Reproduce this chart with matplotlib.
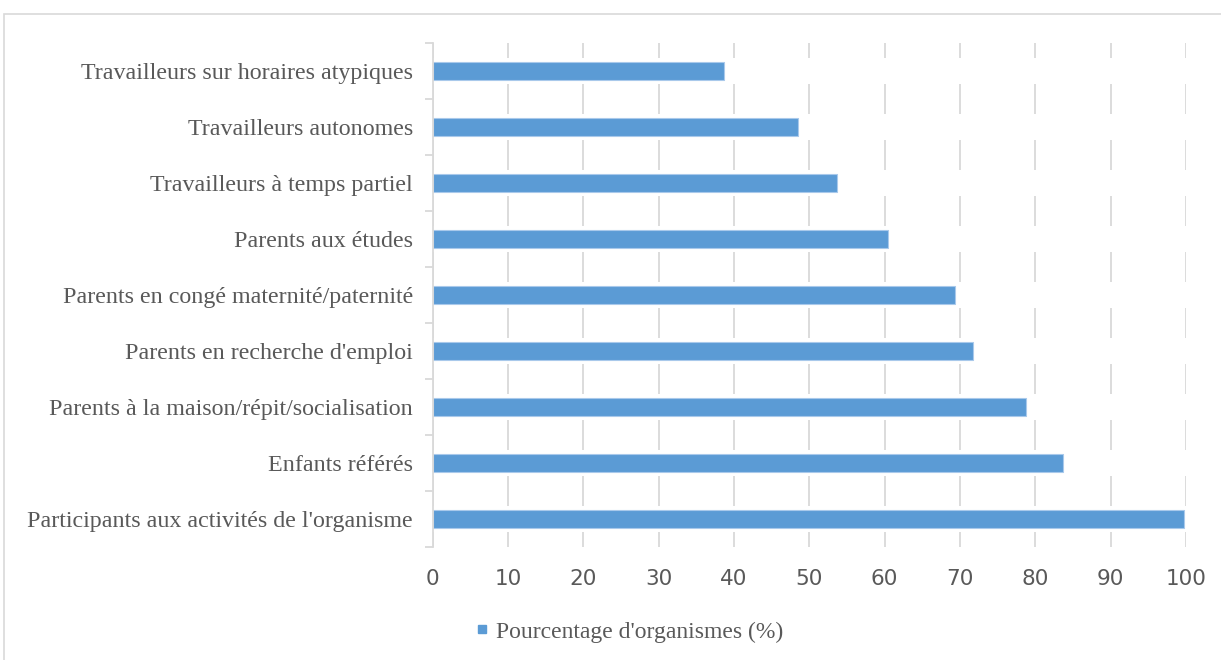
import numpy as np
import matplotlib.pyplot as plt
from matplotlib.patches import Rectangle
from matplotlib.lines import Line2D

categories = ["Travailleurs sur horaires atypiques", "Travailleurs autonomes",
              "Travailleurs à temps partiel", "Parents aux études",
              "Parents en congé maternité/paternité", "Parents en recherche d'emploi",
              "Parents à la maison/répit/socialisation", "Enfants référés",
              "Participants aux activités de l'organisme"]
values = [38.7, 48.5, 53.7, 60.5, 69.3, 71.7, 78.7, 83.7, 99.8]
xticks = [0, 10, 20, 30, 40, 50, 60, 70, 80, 90, 100]
series_name = "Pourcentage d'organismes (%)"

blue = '#5B9BD5'
grey_txt = '#595959'
grid_col = '#d9d9d9'

fig = plt.figure(figsize=(12.21, 6.6), dpi=100)
ax = fig.add_axes([432.5 / 1221, 1 - 547 / 660, (1186 - 432.5) / 1221, (547 - 43) / 660])

# outer chart border
fig.patches.append(Rectangle((4 / 1221, -0.1), 1.2, 1 - 13.5 / 660 + 0.1, transform=fig.transFigure,
                             fill=False, edgecolor=grid_col, linewidth=1.2))

y = np.arange(len(categories))
ax.set_axisbelow(True)
ax.grid(axis='x', color=grid_col, linewidth=1.3)
ax.grid(axis='y', visible=False)
# white bands interrupting the gridlines around each bar
for yi in y:
    ax.axhspan(yi - 0.24, yi + 0.24, color='white', zorder=1, linewidth=0)
ax.barh(y, values, height=0.32, color=blue, edgecolor='#a9c9eb', linewidth=0.8, zorder=2)

ax.set_xlim(0, 100)
ax.set_ylim(len(categories) - 0.5, -0.5)
ax.set_xticks(xticks)
ax.set_xticklabels([str(t) for t in xticks], family=['Liberation Sans Narrow', 'DejaVu Sans'],
                   fontsize=15.5, color=grey_txt)
ax.tick_params(axis='x', length=0, pad=16)

ax.set_yticks(np.arange(len(categories) + 1) - 0.5)
ax.set_yticklabels([])
ax.set_yticks(y, minor=True)
ax.set_yticklabels(categories, minor=True, family=['Liberation Serif', 'DejaVu Serif'],
                   fontsize=17.3, color=grey_txt)
ax.tick_params(axis='y', which='major', length=6, color=grid_col, width=1.3)
ax.tick_params(axis='y', which='minor', length=0, pad=14)

for s in ['top', 'right', 'bottom']:
    ax.spines[s].set_visible(False)
ax.spines['left'].set_color(grid_col)
ax.spines['left'].set_linewidth(1.3)

handle = Line2D([], [], marker='s', linestyle='none', color=blue, markersize=6)
fig.legend([handle], [series_name], loc='center', bbox_to_anchor=(627 / 1221, 1 - 632 / 660),
           frameon=False, handletextpad=0.1, handlelength=1.0,
           prop={'family': ['Liberation Serif', 'DejaVu Serif'], 'size': 17},
           labelcolor=grey_txt)

fig.savefig('out.png', dpi=100)
